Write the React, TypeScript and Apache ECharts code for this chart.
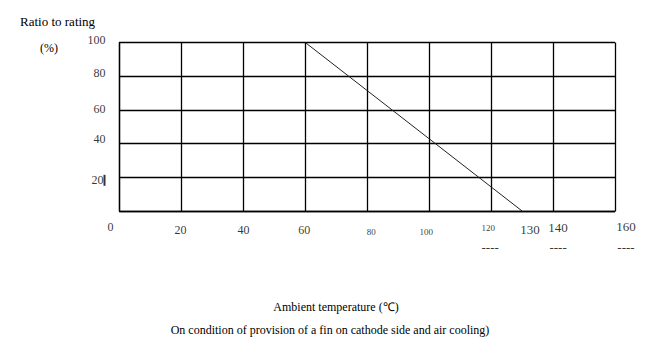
import React, { useEffect, useRef } from "react";
import * as echarts from "echarts";

// ---- data ----
const xTicks = [0, 20, 40, 60, 80, 100, 120, 140, 160];
const yTicks = [20, 40, 60, 80, 100];
const deratingTemp = [60, 130];
const deratingRatio = [100, 0];
const extraXLabels = [130];
const dashMarks = [120, 140, 160];
const yAxisTitle = "Ratio to rating";
const yAxisUnit = "(%)";
const xAxisTitle = "Ambient temperature (\u2103)";
const footnote = "On condition of provision of a fin on cathode side and air cooling)";

// ---- styles (label nudges, px) ----
const FONT = "Liberation Serif";
const xLabelStyle: Record<number, { dx: number; dy: number; size: number }> = {
  0: { dx: -9, dy: 16, size: 12 },
  20: { dx: -1, dy: 19, size: 12 },
  40: { dx: 0, dy: 19, size: 12 },
  60: { dx: -1, dy: 19, size: 12 },
  80: { dx: 4, dy: 21, size: 9 },
  100: { dx: -3, dy: 21, size: 9 },
  120: { dx: -3, dy: 17, size: 9 },
  140: { dx: 5, dy: 16, size: 13 },
  160: { dx: 11, dy: 15, size: 13 },
};
const yLabelStyle: Record<number, { dy: number }> = {
  20: { dy: 3 },
  40: { dy: -5 },
  60: { dy: -1 },
  80: { dy: -3 },
  100: { dy: -3 },
};
const dashOffsetX: Record<number, number> = { 120: -1, 140: 5, 160: 11 };

export default function App() {
  const ref = useRef<HTMLDivElement>(null);
  useEffect(() => {
    if (!ref.current) return;
    const chart = echarts.init(ref.current, undefined, { renderer: "svg" });
    const black = "#000";
    const txt = (text: string, x: number, y: number, size: number, align: string) => ({
      type: "text",
      x,
      y,
      style: {
        text,
        fontSize: size,
        fontFamily: FONT,
        fill: black,
        align,
        verticalAlign: "middle",
      },
    });
    const option: any = {
      animation: false,
      backgroundColor: "#fff",
      textStyle: { fontFamily: FONT, color: black },
      grid: { left: 119.5, right: 54, top: 42.5, bottom: 144, containLabel: false },
      xAxis: {
        type: "value",
        min: 0,
        max: 160,
        interval: 20,
        axisLabel: { show: false },
        axisTick: { show: false },
        axisLine: { show: true, lineStyle: { color: black, width: 1.3 } },
        splitLine: { show: true, lineStyle: { color: black, width: 1.3 } },
      },
      yAxis: {
        type: "value",
        min: 0,
        max: 100,
        interval: 20,
        axisLabel: { show: false },
        axisTick: { show: false },
        axisLine: { show: true, lineStyle: { color: black, width: 1.3 } },
        splitLine: { show: true, lineStyle: { color: black, width: 1.3 } },
      },
      series: [
        {
          type: "line",
          data: deratingTemp.map((t, i) => [t, deratingRatio[i]]),
          symbol: "none",
          lineStyle: { color: "#222", width: 1 },
          silent: true,
          z: 3,
        },
        {
          type: "scatter",
          symbolSize: 0,
          clip: false,
          silent: true,
          data: xTicks.map((v) => {
            const s = xLabelStyle[v];
            return {
              value: [v, 0],
              label: {
                show: true,
                position: "inside",
                offset: [s.dx, s.dy],
                fontSize: s.size,
                fontFamily: FONT,
                color: black,
                formatter: String(v),
              },
            };
          }),
        },
        {
          type: "scatter",
          symbolSize: 0,
          clip: false,
          silent: true,
          data: yTicks.map((v) => ({
            value: [0, v],
            label: {
              show: true,
              position: "inside",
              align: "right",
              offset: [-14, yLabelStyle[v].dy],
              fontSize: 12,
              fontFamily: FONT,
              color: black,
              formatter: v === 20 ? "{n|20}{bar| }" : String(v),
              rich: {
                n: { fontSize: 12, fontFamily: FONT, color: black },
                bar: { width: 2, height: 11, backgroundColor: black, fontSize: 6 },
              },
            },
          })),
        },
        {
          type: "scatter",
          symbolSize: 0,
          clip: false,
          silent: true,
          data: extraXLabels.map((v) => ({
            value: [v, 0],
            label: {
              show: true,
              position: "inside",
              offset: [8, 18],
              fontSize: 13,
              fontFamily: FONT,
              color: black,
              formatter: String(v),
            },
          })),
        },
        {
          type: "scatter",
          symbolSize: 0,
          clip: false,
          silent: true,
          data: dashMarks.map((v) => ({
            value: [v, 0],
            label: {
              show: true,
              position: "inside",
              offset: [dashOffsetX[v], 36],
              fontSize: 13,
              fontFamily: FONT,
              color: black,
              formatter: "----",
            },
          })),
        },
      ],
      graphic: [
        txt(yAxisTitle, 20, 21, 13, "left"),
        txt(yAxisUnit, 40, 48, 12, "left"),
        txt(xAxisTitle, 336, 307, 12, "center"),
        txt(footnote, 330, 330, 12, "center"),
      ],
    };
    chart.setOption(option);
    return () => chart.dispose();
  }, []);
  return (
    <div
      ref={ref}
      style={{ position: "absolute", left: 0, top: 0, width: 669, height: 355 }}
    />
  );
}
